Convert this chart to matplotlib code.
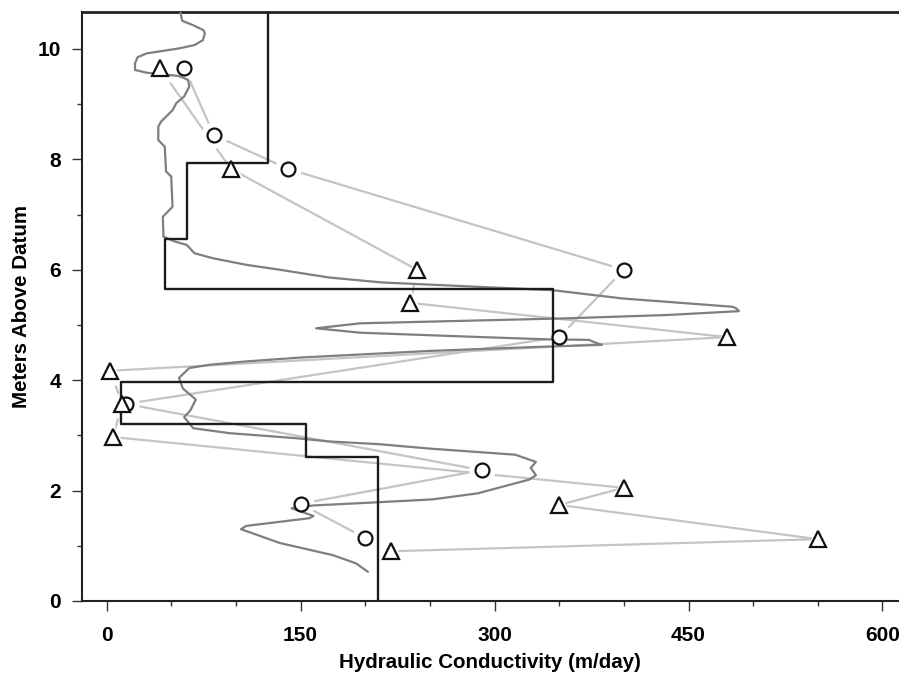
import matplotlib
matplotlib.use("Agg")
import matplotlib.pyplot as plt
from matplotlib.ticker import MultipleLocator

plt.rcParams['font.family'] = ['Liberation Sans', 'DejaVu Sans']
plt.rcParams['font.weight'] = 'bold'

# ---- layered model (step profile) --------------------------------------
layer_tops = [10.67, 7.93, 6.56, 5.65, 3.97, 3.21, 2.60]
layer_bottoms = [7.93, 6.56, 5.65, 3.97, 3.21, 2.60, 0.0]
layer_k = [125, 62, 45, 345, 11, 154, 210]

# ---- continuous log-derived profile -----------------------------------
profile_k = [202, 193, 175, 134, 104, 108, 157, 160, 143, 160, 211, 252, 287,
             327, 332, 328, 332, 316, 250, 211, 172, 146, 95, 67, 60, 65, 69,
             59, 56, 64, 80, 108, 150, 200, 250, 330, 383, 378, 373, 340, 278,
             196, 162, 196, 355, 433, 489, 487, 484, 399, 345, 213, 172, 134,
             108, 82, 68, 62, 53, 44, 43.5, 46, 51, 50, 46, 45, 40, 40, 42, 51,
             54, 60, 64, 63, 56, 31, 22, 22, 24, 31, 56, 68, 74.5, 76, 75, 67,
             58.5, 57]
profile_z = [0.53, 0.68, 0.83, 1.05, 1.30, 1.36, 1.50, 1.54, 1.68, 1.73, 1.79,
             1.84, 1.95, 2.20, 2.28, 2.41, 2.52, 2.65, 2.76, 2.84, 2.89, 2.95,
             3.04, 3.13, 3.33, 3.46, 3.65, 3.85, 4.04, 4.22, 4.28, 4.34, 4.41,
             4.47, 4.53, 4.60, 4.64, 4.68, 4.73, 4.74, 4.79, 4.86, 4.94, 5.03,
             5.12, 5.18, 5.25, 5.30, 5.33, 5.48, 5.63, 5.77, 5.86, 6.00, 6.09,
             6.21, 6.30, 6.45, 6.51, 6.60, 6.96, 7.02, 7.14, 7.69, 7.78, 8.23,
             8.35, 8.59, 8.68, 8.89, 9.02, 9.14, 9.32, 9.44, 9.51, 9.57, 9.62,
             9.74, 9.85, 9.92, 10.01, 10.07, 10.16, 10.28, 10.34, 10.43, 10.51,
             10.67]

# ---- point measurements -------------------------------------------------
circle_k = [60, 83, 140, 400, 350, 15, 290, 150, 200]
circle_z = [9.66, 8.44, 7.83, 6.00, 4.78, 3.57, 2.37, 1.76, 1.14]

triangle_k = [41, 96, 240, 235, 480, 3, 12, 5, 400, 350, 550, 220]
triangle_z = [9.66, 7.83, 6.00, 5.40, 4.78, 4.17, 3.57, 2.97, 2.05, 1.74, 1.12, 0.90]

# build the step outline from the layer table
step_x, step_y = [], []
for top, bot, k in zip(layer_tops, layer_bottoms, layer_k):
    step_x += [k, k]
    step_y += [top, bot]

fig = plt.figure(figsize=(8.99, 6.77), dpi=100)
ax = fig.add_axes([0.0912, 0.1123, 0.9077, 0.8700])

line_grey = "#c4c4c4"
for xs, ys, mk, ms in [(circle_k, circle_z, "o", 10), (triangle_k, triangle_z, "^", 11)]:
    ax.plot(xs, ys, color=line_grey, linewidth=1.6, zorder=1)
    # white halo so the connectors stop short of each symbol
    ax.plot(xs, ys, linestyle="none", marker=mk, markersize=ms + 9,
            markerfacecolor="white", markeredgecolor="none", zorder=2)

ax.plot(profile_k, profile_z, color="#7f7f7f", linewidth=1.6, zorder=3)
ax.plot(step_x, step_y, color="#1c1c1c", linewidth=1.7, zorder=4)

ax.plot(circle_k, circle_z, linestyle="none", marker="o", markersize=10,
        markerfacecolor="white", markeredgecolor="#111111", markeredgewidth=1.6, zorder=5)
ax.plot(triangle_k, triangle_z, linestyle="none", marker="^", markersize=11,
        markerfacecolor="white", markeredgecolor="#111111", markeredgewidth=1.6, zorder=5)

ax.set_xlim(-19, 612)
ax.set_ylim(0, 10.67)

ax.xaxis.set_major_locator(MultipleLocator(150))
ax.xaxis.set_minor_locator(MultipleLocator(50))
ax.yaxis.set_major_locator(MultipleLocator(2))
ax.yaxis.set_minor_locator(MultipleLocator(1))

ax.tick_params(which="major", direction="out", length=7, width=1.0,
               color="#333333", labelsize=15)
ax.tick_params(which="minor", direction="out", length=3.5, width=1.0, color="#333333")
ax.tick_params(axis="x", pad=11)
ax.tick_params(axis="y", pad=8)

for side in ["left", "bottom", "top"]:
    ax.spines[side].set_linewidth(1.5)
    ax.spines[side].set_color("#222222")
ax.spines["top"].set_linewidth(2.0)
ax.spines["right"].set_visible(False)

ax.set_xlabel("Hydraulic Conductivity (m/day)", fontsize=14.8, fontweight="bold", labelpad=6)
ax.set_ylabel("Meters Above Datum", fontsize=14.8, fontweight="bold", labelpad=5)

fig.savefig("out.png", dpi=100)
